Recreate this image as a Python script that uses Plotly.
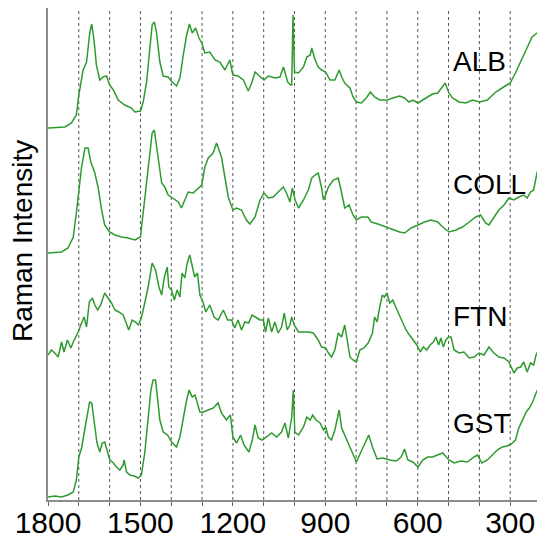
import plotly.graph_objects as go

# Raman shift (cm^-1) and intensities (arbitrary units, stacked offsets included)
alb_x = [1800,1745,1724,1708,1700,1686,1675,1664,1658,1650,1643,1632,1621,1610,1600,1588,1572,1551,1529,1518,
         1500,1491,1480,1469,1462,1455,1448,1437,1426,1410,1400,1383,1372,1361,1350,1341,1332,1321,1310,1301,
         1291,1275,1258,1242,1226,1210,1200,1183,1166,1150,1139,1128,1112,1099,1085,1063,1047,1036,1022,1013,
         1009,1005,1000,987,971,960,949,944,933,923,912,899,885,869,855,847,837,820,810,799,783,767,754,740,
         724,699,681,659,643,629,616,599,584,568,552,535,519,511,499,487,466,444,423,399,374,347,326,300,283,
         261,245,229,213,202]
alb_y = [372,373,377,385,405,430,438,468,476,458,435,420,423,424,415,410,400,395,392,388,
         389,398,418,455,475,478,468,438,424,423,419,414,422,445,465,476,467,472,462,457,
         447,448,440,438,430,440,425,424,420,409,417,428,423,420,424,422,423,433,418,415,
         415,485,428,427,433,443,445,452,440,433,430,428,420,420,430,423,417,412,403,398,397,402,408,403,
         400,400,402,404,402,398,400,397,400,403,406,407,413,417,407,402,398,397,400,398,400,408,412,417,427,
         442,452,463,467,469]

coll_x = [1800,1756,1735,1718,1708,1700,1691,1680,1670,1661,1648,1637,1626,1616,1600,1583,1561,1540,1518,1500,
          1491,1480,1469,1462,1455,1445,1437,1431,1421,1410,1394,1377,1367,1356,1345,1329,1313,1301,1291,1280,
          1264,1253,1245,1237,1226,1215,1200,1188,1172,1156,1145,1128,1112,1099,1085,1069,1053,1036,1026,1015,
          1007,998,987,971,955,944,933,923,912,906,899,890,874,858,847,837,823,810,799,783,762,751,729,702,
          681,659,643,621,599,578,557,535,519,498,476,455,433,412,396,380,369,353,337,320,304,288,272,256,245,
          234,224,213,202]
coll_y = [247,248,252,263,287,310,333,352,352,338,327,312,290,275,268,265,263,262,260,263,
          287,320,350,367,370,350,330,317,313,305,302,298,292,300,308,307,312,315,333,342,
          347,357,350,343,323,303,290,292,290,280,276,283,300,307,302,303,308,313,307,298,
          312,300,292,300,310,322,325,327,312,300,305,313,320,322,307,292,295,285,280,283,283,278,276,273,
          270,268,267,272,275,278,280,278,273,268,270,273,278,283,285,277,275,283,290,295,302,300,303,305,302,
          308,310,327,338]

ftn_x = [1800,1789,1778,1767,1756,1748,1737,1726,1715,1702,1691,1683,1675,1666,1656,1648,1639,1629,1616,1605,
         1594,1583,1570,1556,1547,1538,1527,1516,1507,1497,1486,1475,1462,1451,1440,1431,1423,1413,1408,1399,
         1390,1381,1372,1365,1356,1348,1340,1332,1324,1315,1307,1297,1288,1275,1261,1248,1231,1217,1204,1194,
         1183,1172,1161,1149,1138,1127,1112,1101,1094,1085,1074,1064,1053,1042,1033,1024,1015,1009,1001,987,
         971,955,939,923,912,899,890,880,869,858,847,837,829,820,810,799,788,775,761,747,740,732,724,715,708,
         700,691,681,670,659,648,638,627,614,603,592,582,571,560,549,541,532,525,517,509,500,492,482,466,450,
         433,417,401,385,369,353,337,320,304,288,277,266,256,245,234,224,216,208,200]
ftn_y = [145,150,147,143,158,148,160,152,160,168,177,183,173,198,202,195,190,195,207,202,
         197,190,188,185,178,170,180,178,175,182,197,213,237,230,213,205,222,233,213,210,
         200,210,203,227,222,237,245,233,223,227,205,198,188,195,183,180,190,180,180,172,
         180,170,178,177,185,183,180,180,168,182,168,178,167,173,187,170,175,183,175,168,
         168,168,167,160,153,152,147,143,150,167,163,175,160,143,140,138,150,152,157,167,183,178,192,205,203,
         207,197,200,192,185,178,170,165,160,155,148,153,150,155,158,163,155,162,153,160,163,163,150,147,148,
         142,143,147,145,153,147,143,142,138,127,132,133,138,128,137,135,145,150,143]

gst_x = [1800,1778,1756,1735,1718,1708,1700,1691,1680,1671,1665,1658,1650,1641,1632,1624,1616,1608,1599,1588,
         1578,1567,1556,1553,1545,1534,1520,1507,1497,1486,1475,1466,1459,1451,1445,1437,1426,1412,1399,1383,
         1372,1361,1350,1342,1332,1323,1315,1307,1296,1280,1264,1248,1237,1221,1208,1200,1188,1175,1164,1148,
         1137,1128,1118,1105,1091,1074,1058,1042,1031,1020,1009,1004,999,987,971,960,949,941,930,917,906,899,
         890,880,869,861,855,847,837,826,812,799,786,772,759,747,732,713,691,670,654,643,632,616,599,584,568,
         552,535,519,499,482,460,439,417,406,392,374,358,342,326,310,296,283,272,261,248,238,227,216,205]
gst_y = [3,4,3,5,8,20,43,52,72,90,98,97,77,57,48,57,58,50,40,37,
         33,30,35,40,28,25,24,22,25,47,83,110,120,120,103,80,68,65,58,53,
         63,83,100,110,103,105,97,88,88,90,92,97,87,80,85,63,57,65,55,48,
         60,75,62,60,63,67,63,68,77,62,83,110,68,65,73,83,80,85,80,77,70,73,
         63,60,70,80,90,72,65,58,47,38,47,57,65,53,41,42,40,39,43,51,40,38,33,40,43,
         43,45,47,40,37,39,38,43,45,37,40,45,50,53,54,56,60,72,80,88,92,98,107,115]

sample_names = ["ALB", "COLL", "FTN", "GST"]
label_levels = [439, 316, 184, 77]
grid_shifts = [1700, 1600, 1500, 1400, 1300, 1200, 1100, 1000, 900, 800, 700, 600, 500, 400, 300]
tick_shifts = [1800, 1500, 1200, 900, 600, 300]

green = "#2f9a2f"
fig = go.Figure()
for xs, ys in [(alb_x, alb_y), (coll_x, coll_y), (ftn_x, ftn_y), (gst_x, gst_y)]:
    fig.add_trace(go.Scatter(x=xs, y=ys, mode="lines",
                             line=dict(color=green, width=1.5), showlegend=False,
                             hoverinfo="skip"))

for g in grid_shifts:
    fig.add_shape(type="line", x0=g, x1=g, xref="x", y0=0, y1=1, yref="paper",
                  line=dict(color="#555555", width=1, dash="dot"), layer="below")

for name, lv in zip(sample_names, label_levels):
    fig.add_annotation(x=492, y=lv, xref="x", yref="y", text=name, showarrow=False,
                       xanchor="left", yanchor="middle",
                       font=dict(family="Liberation Sans, Arial", size=28, color="black"))

fig.add_annotation(x=-0.053, y=0.526, xref="paper", yref="paper", text="Raman Intensity",
                   showarrow=False, textangle=-90, xanchor="center", yanchor="middle",
                   font=dict(family="Liberation Sans, Arial", size=28, color="black"))

# page body has an 8px default margin, so the figure is sized 8px smaller
fig.update_layout(
    width=537, height=532,
    margin=dict(l=40, r=4, t=0, b=40, autoexpand=False),
    paper_bgcolor="white", plot_bgcolor="white",
    xaxis=dict(range=[1800, 200], tickvals=tick_shifts, ticktext=[str(t) for t in tick_shifts],
               showgrid=False, zeroline=False, showline=True, linecolor="#8c8c8c", linewidth=2,
               ticks="outside", ticklen=4, tickcolor="#666666", automargin=False,
               ticklabelstandoff=-9,
               minor=dict(dtick=100, tick0=0, ticks="outside", ticklen=4, tickcolor="#666666"),
               tickfont=dict(family="Liberation Sans, Arial", size=30, color="black")),
    yaxis=dict(range=[0, 492], showgrid=False, zeroline=False, showticklabels=False,
               showline=True, linecolor="#8c8c8c", linewidth=2, ticks="", automargin=False),
)

fig.write_html("out.html")
